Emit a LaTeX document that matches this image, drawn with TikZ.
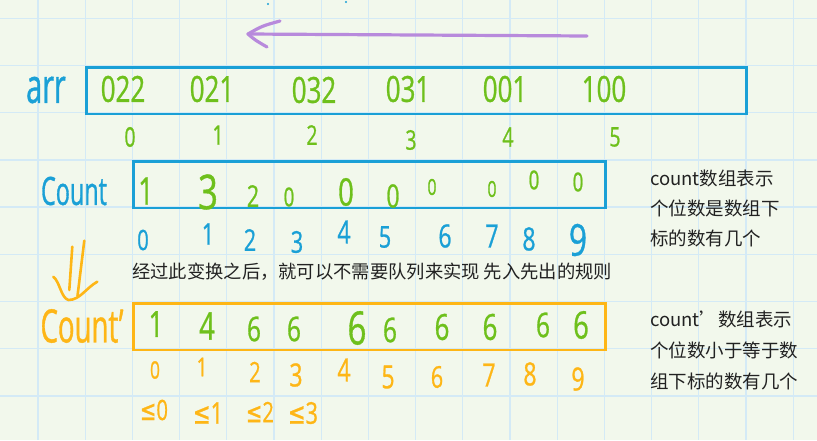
\documentclass[tikz,border=0pt]{standalone}
\usepackage{fontspec}
\newfontfamily\hand[FakeStretch=0.72,FakeBold=0.8]{Open Sans}
\newfontfamily\handn[FakeStretch=0.6,FakeBold=0.8]{Open Sans}
\newfontfamily\cjk{Noto Sans CJK SC}
\newfontfamily\symf[FakeStretch=0.7,FakeBold=0.8]{DejaVu Sans}
\definecolor{bgC}{RGB}{242,248,236}
\definecolor{gridC}{RGB}{212,234,246}
\definecolor{blueC}{RGB}{26,160,214}
\definecolor{greenC}{RGB}{110,192,28}
\definecolor{orangeC}{RGB}{254,182,22}
\definecolor{purpleC}{RGB}{184,138,220}
\definecolor{txtC}{RGB}{34,34,34}
\tikzset{
  sz/.style={font=\hand\fontsize{#1}{#1}\selectfont},
  lbl/.style={font=\handn\fontsize{#1}{#1}\selectfont, inner sep=0pt},
  gv/.style={text=greenC, inner sep=0pt},
  bv/.style={text=blueC, inner sep=0pt},
  ov/.style={text=orangeC, inner sep=0pt},
  arrbox/.style={draw=#1, line width=2.6pt, minimum height=46.8pt, inner sep=0pt, anchor=north west},
  note/.style={font=\cjk\fontsize{18.5}{18.5}\selectfont, text=txtC, inner sep=0pt, anchor=west},
  pen/.style={line width=#1, line cap=round, line join=round},
}
\begin{document}
\begin{tikzpicture}[x=1pt,y=-1pt]
\useasboundingbox (0,0) rectangle (817,440);
\fill[bgC] (0,0) rectangle (817,440);
\foreach \i in {0,...,16} \draw[gridC, line width=1.3pt] ({38+47.2*\i},0) -- ++(0,440);
\foreach \j in {0,...,8} \draw[gridC, line width=1.3pt] (0,{18.3+47.2*\j}) -- ++(817,0);

% top dots
\fill[blueC] (268,4) circle (1.2pt);
\fill[blueC] (346,2) circle (1.2pt);

% purple arrow
\coordinate (pS) at (587,36);
\coordinate (pT) at (248,34);
\coordinate (pU) at (280,21);
\coordinate (pL) at (267,47);
\draw[purpleC, pen=3.2pt] (pS) -- (pT);
\draw[purpleC, pen=3.2pt] (pU) .. controls (262,26) .. (pT) .. controls (255,40) .. (pL);

% arr
\node[lbl=48, bv] (arrlbl) at (46,90) {arr};
\node[arrbox=blueC, minimum width=660pt] (arrbox) at (85,66) {};
\node[sz=36, gv] (a0) at (123,89) {022};
\node[sz=36, gv] (a1) at (212,89) {021};
\node[sz=36, gv] (a2) at (314,90) {032};
\node[sz=36, gv] (a3) at (408,89) {031};
\node[sz=36, gv] (a4) at (505,89) {001};
\node[sz=36, gv] (a5) at (604,89) {100};
\node[sz=27, gv] (ai0) at (130,137) {0};
\node[sz=27, gv] (ai1) at (218,135) {1};
\node[sz=27, gv] (ai2) at (312,135) {2};
\node[sz=27, gv] (ai3) at (411,140) {3};
\node[sz=27, gv] (ai4) at (508,137) {4};
\node[sz=27, gv] (ai5) at (615,137) {5};

% count
\node[lbl=39, bv] (cntlbl) at (74,191) {Count};
\node[arrbox=blueC, minimum width=472pt] (cntbox) at (132,160) {};
\node[sz=38, gv] (c0) at (146,191) {1};
\node[sz=48, gv] (c1) at (208,192) {3};
\node[sz=30, gv] (c2) at (253,196) {2};
\node[sz=26, gv] (c3) at (289,197) {0};
\node[sz=38, gv] (c4) at (346,192) {0};
\node[sz=32, gv] (c5) at (393,196) {0};
\node[sz=22, gv] (c6) at (432,187) {0};
\node[sz=22, gv] (c7) at (492,189) {0};
\node[sz=26, gv] (c8) at (534,180) {0};
\node[sz=26, gv] (c9) at (578,182) {0};
\node[sz=28, bv] (ci0) at (143,240) {0};
\node[sz=30, bv] (ci1) at (208,234) {1};
\node[sz=30, bv] (ci2) at (250,240) {2};
\node[sz=30, bv] (ci3) at (297,242) {3};
\node[sz=32, bv] (ci4) at (344,232) {4};
\node[sz=30, bv] (ci5) at (385,237) {5};
\node[sz=32, bv] (ci6) at (445,236) {6};
\node[sz=32, bv] (ci7) at (492,236) {7};
\node[sz=32, bv] (ci8) at (529,239) {8};
\node[sz=44, bv] (ci9) at (578,240) {9};

\node[note] (n1a) at (650,178) {count数组表示};
\node[note] (n1b) at (650,208) {个位数是数组下};
\node[note] (n1c) at (650,238) {标的数有几个};

\node[note, font=\cjk\fontsize{18.3}{18.3}\selectfont] (mid) at (132,272) {经过此变换之后，就可以不需要队列来实现 先入先出的规则};

% orange double arrow
\coordinate (d1a) at (72.3,246.7);
\coordinate (d1b) at (69.3,290);
\coordinate (d2a) at (84.3,240.7);
\coordinate (d2b) at (77.5,296);
\coordinate (hL) at (53.3,276.7);
\coordinate (hV) at (68.5,300);
\coordinate (hR) at (97.3,281.7);
\draw[orangeC, pen=2.6pt] (d1a) -- (d1b);
\draw[orangeC, pen=2.6pt] (d2a) -- (d2b);
\draw[orangeC, pen=2.6pt] (hL) .. controls (60,282) and (61,298) .. (hV) .. controls (80,300) and (86,288) .. (hR);

% count'
\node[lbl=46, ov] (cplbl) at (82,326) {Count’};
\node[arrbox=orangeC, minimum width=472pt] (cpbox) at (132,302) {};
\node[sz=36, gv] (p0) at (156,324) {1};
\node[sz=38, gv] (p1) at (207,326) {4};
\node[sz=34, gv] (p2) at (254,329) {6};
\node[sz=34, gv] (p3) at (294,329) {6};
\node[sz=46, gv] (p4) at (357,328) {6};
\node[sz=34, gv] (p5) at (390,330) {6};
\node[sz=36, gv] (p6) at (442,327) {6};
\node[sz=36, gv] (p7) at (490,327) {6};
\node[sz=34, gv] (p8) at (543,325) {6};
\node[sz=38, gv] (p9) at (581,325) {6};
\node[sz=24, ov] (pi0) at (155,370) {0};
\node[sz=26, ov] (pi1) at (202,367) {1};
\node[sz=28, ov] (pi2) at (255,372) {2};
\node[sz=32, ov] (pi3) at (296,375) {3};
\node[sz=32, ov] (pi4) at (344,370) {4};
\node[sz=32, ov] (pi5) at (388,377) {5};
\node[sz=30, ov] (pi6) at (437,377) {6};
\node[sz=32, ov] (pi7) at (489,375) {7};
\node[sz=32, ov] (pi8) at (530,374) {8};
\node[sz=32, ov] (pi9) at (578,379) {9};
\node[ov, font=\hand\fontsize{28}{28}\selectfont] (le0) at (154,410) {{\symf ≤}0};
\node[ov, font=\hand\fontsize{30}{30}\selectfont] (le1) at (208,413) {{\symf ≤}1};
\node[ov, font=\hand\fontsize{28}{28}\selectfont] (le2) at (260,412) {{\symf ≤}2};
\node[ov, font=\hand\fontsize{30}{30}\selectfont] (le3) at (303,413) {{\symf ≤}3};

\node[note] (n2a) at (650,319) {count’数组表示};
\node[note] (n2b) at (650,350) {个位数小于等于数};
\node[note] (n2c) at (650,381) {组下标的数有几个};
\end{tikzpicture}
\end{document}
